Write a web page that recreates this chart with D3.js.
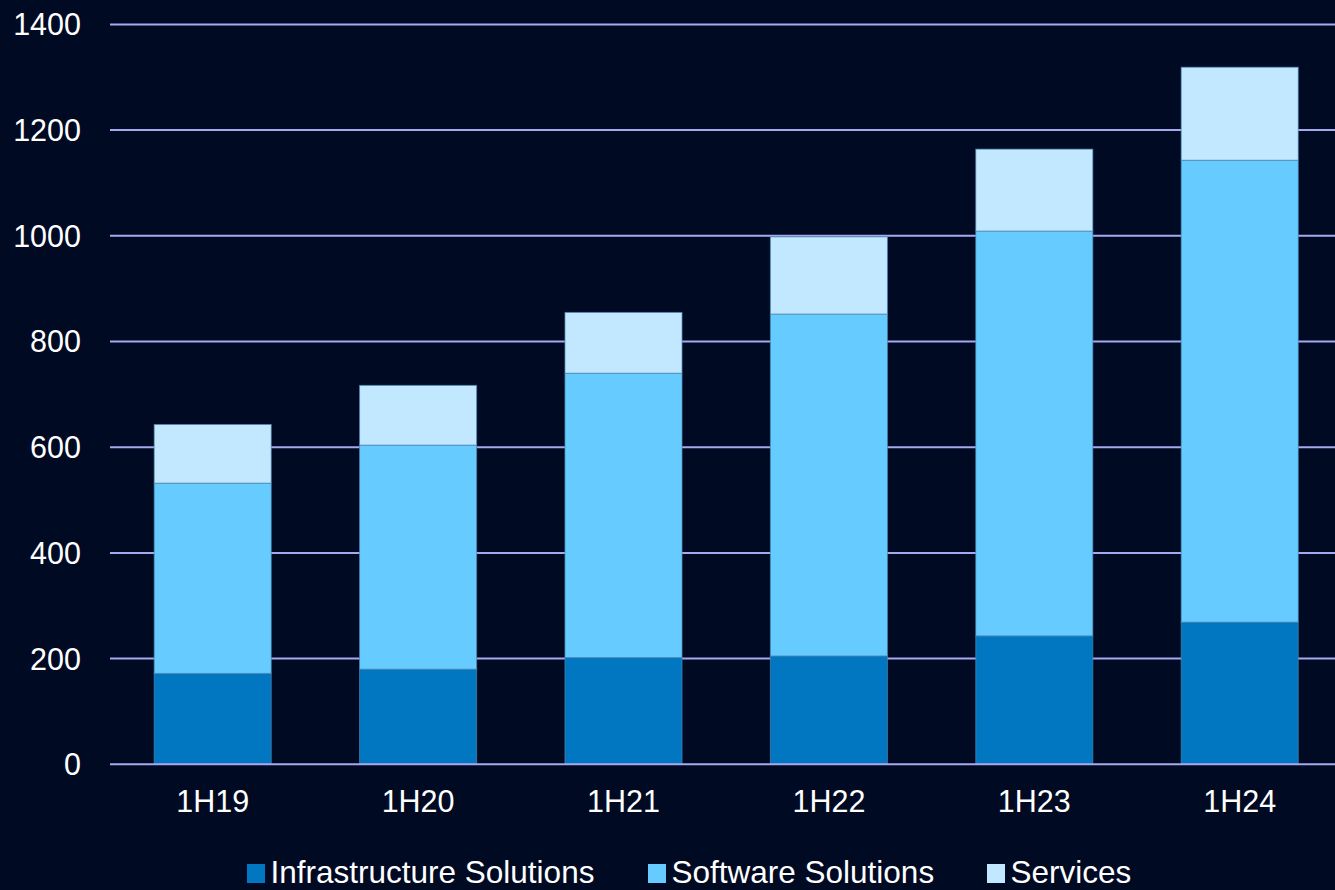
<!DOCTYPE html>
<html>
<head>
<meta charset="utf-8">
<script src="https://cdn.jsdelivr.net/npm/d3@7"></script>
<style>
  html, body { margin: 0; padding: 0; background: #000a23; overflow: hidden; }
  svg { display: block; }
  text { font-family: "Liberation Sans", Arial, sans-serif; fill: #ffffff; }
</style>
</head>
<body>
<svg id="chart" width="1335" height="890"></svg>
<script>
// Half-year periods
const categories = ["1H19", "1H20", "1H21", "1H22", "1H23", "1H24"];

// Segment values per period
const infrastructure = [172, 180, 202, 205, 243, 269];
const software       = [360, 424, 538, 647, 766, 874];
const services       = [111, 113, 115, 146, 155, 176];

const seriesNames = ["Infrastructure Solutions", "Software Solutions", "Services"];
const seriesColors = ["#0077c0", "#66ccff", "#c2e8ff"];
const yTicks = [0, 200, 400, 600, 800, 1000, 1200, 1400];

const rows = categories.map((c, i) => ({
  period: c,
  "Infrastructure Solutions": infrastructure[i],
  "Software Solutions": software[i],
  "Services": services[i]
}));

const svg = d3.select("#chart");
svg.append("rect").attr("width", 1335).attr("height", 890).attr("fill", "#000a23");

const x = d3.scaleBand()
  .domain(categories)
  .range([110, 1342.4])
  .paddingInner(0.43)
  .paddingOuter(0.215);

const y = d3.scaleLinear().domain([0, 1400]).range([764.3, 24.4]);

// Horizontal gridlines (behind the bars)
svg.append("g")
  .selectAll("line")
  .data(yTicks.filter(t => t > 0))
  .join("line")
  .attr("x1", 110).attr("x2", 1335)
  .attr("y1", d => y(d)).attr("y2", d => y(d))
  .attr("stroke", "#a8a8f0")
  .attr("stroke-width", 2);

// Stacked bars
const stack = d3.stack().keys(seriesNames);
const layers = stack(rows);

svg.append("g")
  .selectAll("g")
  .data(layers)
  .join("g")
  .attr("fill", (d, i) => seriesColors[i])
  .selectAll("rect")
  .data(d => d)
  .join("rect")
  .attr("x", d => x(d.data.period))
  .attr("width", x.bandwidth())
  .attr("y", d => y(d[1]))
  .attr("height", d => y(d[0]) - y(d[1]))
  .attr("stroke", "#4f86b0")
  .attr("stroke-opacity", 0.7)
  .attr("stroke-width", 1);

// Baseline
svg.append("line")
  .attr("x1", 110).attr("x2", 1335)
  .attr("y1", y(0)).attr("y2", y(0))
  .attr("stroke", "#a8a8f0")
  .attr("stroke-width", 2);

// Y-axis tick labels
svg.append("g")
  .selectAll("text")
  .data(yTicks)
  .join("text")
  .attr("x", 81)
  .attr("y", d => y(d))
  .attr("dy", "0.36em")
  .attr("text-anchor", "end")
  .attr("font-size", 30.5)
  .text(d => d);

// X-axis category labels
svg.append("g")
  .selectAll("text")
  .data(categories)
  .join("text")
  .attr("x", d => x(d) + x.bandwidth() / 2)
  .attr("y", 811.5)
  .attr("text-anchor", "middle")
  .attr("font-size", 30.5)
  .text(d => d);

// Legend along the bottom edge
const legendX = [247, 648, 987];
const legend = svg.append("g")
  .selectAll("g")
  .data(seriesNames)
  .join("g")
  .attr("transform", (d, i) => `translate(${legendX[i]},0)`);

legend.append("rect")
  .attr("x", 0).attr("y", 864)
  .attr("width", 18).attr("height", 19)
  .attr("fill", (d, i) => seriesColors[i]);

legend.append("text")
  .attr("x", 23.5)
  .attr("y", 883)
  .attr("font-size", 31.5)
  .text(d => d);
</script>
</body>
</html>
